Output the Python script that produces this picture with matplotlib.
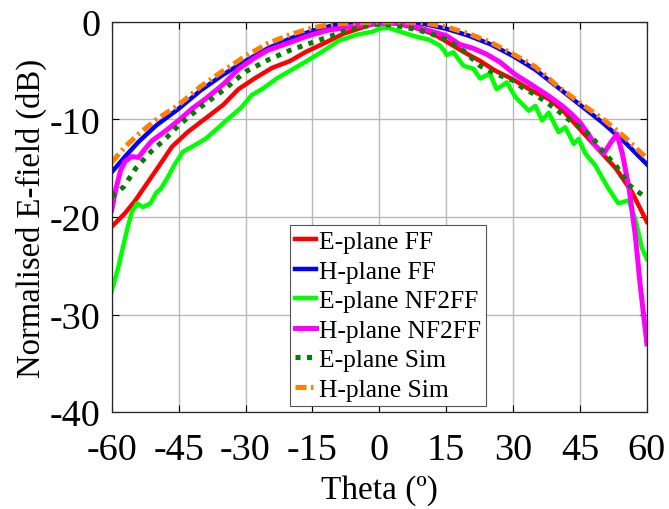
import matplotlib
matplotlib.use("Agg")
import matplotlib.pyplot as plt

# ---- data (theta in degrees, level in dB) ----
theta_e_ff = [-60, -57, -54.7, -52, -49, -46.5, -43, -39, -35, -31.6, -28, -24, -20, -16.6, -12, -8, -4,
              0, 4, 8, 12, 15, 19, 22.6, 26, 30, 34, 38, 41, 45, 49, 53, 56.6, 60]
e_ff = [-21.0, -19.6, -18.3, -16.5, -14.5, -12.8, -11.3, -9.9, -8.5, -6.9, -5.8, -4.7, -4.0, -3.1, -2.1, -1.2, -0.6,
        0.0, -0.2, -0.6, -1.2, -2.0, -3.1, -4.0, -5.0, -5.9, -7.0, -7.9, -9.0, -11.0, -13.0, -15.0, -17.4, -20.5]

theta_h_ff = [-60, -57, -54, -50, -45, -40, -35, -30, -25, -20, -15, -10, -5,
              0, 5, 10, 15, 20, 25, 30, 35, 40, 45, 50, 55, 60]
h_ff = [-15.4, -13.8, -12.3, -10.6, -8.9, -7.0, -5.4, -4.0, -2.7, -1.7, -0.9, -0.3, -0.1,
        0.0, 0.0, -0.2, -0.7, -1.4, -2.3, -3.5, -4.9, -6.7, -8.5, -10.3, -12.3, -14.6]

theta_e_nf = [-60, -58.6, -56.5, -55.5, -54.3, -53, -51.3, -50, -49, -47.5, -46, -44, -42, -39, -37, -35.5,
              -33.8, -31, -28.6, -26, -23, -20, -16.6, -13, -9, -5, -1.5, 0, 2, 4, 6, 9, 11, 13.5, 14.5,
              15.1, 16.6, 18.9, 21.1, 22.6, 24.8, 26.3, 28.6, 30.5, 33.5, 35, 36.5, 38, 40.2, 41.7, 43.6,
              44.7, 46.2, 48.4, 51.4, 53.6, 55.9, 57.4, 58.9, 60]
e_nf = [-27.6, -25.3, -21.2, -19.5, -18.6, -19.0, -18.6, -17.5, -17.1, -16.0, -14.7, -13.3, -12.8, -12.0,
        -11.2, -10.6, -9.9, -8.8, -7.5, -6.8, -5.8, -5.0, -4.1, -3.1, -1.9, -1.3, -1.0, -0.7, -0.6, -0.9,
        -1.2, -1.6, -1.8, -2.4, -2.9, -3.4, -3.1, -4.5, -4.8, -5.8, -5.3, -6.9, -6.2, -7.7, -9.1, -8.6,
        -10.1, -9.3, -11.3, -10.8, -12.5, -12.0, -13.5, -14.7, -17.1, -18.6, -18.3, -20.2, -23.2, -24.3]

theta_h_nf = [-60, -59, -58, -57, -55.5, -54, -52.5, -51, -48, -45, -42, -39, -35, -31.5, -28, -25, -20,
              -16.5, -12, -8, -4, 0, 3, 6, 9, 12, 15, 18, 21, 24, 27, 30.5, 34, 38, 41, 43, 45, 47, 48.5,
              50.3, 52, 53.3, 54.5, 56, 57.4, 58.5, 60]
h_nf = [-19.3, -17.0, -15.2, -14.3, -13.8, -13.9, -13.0, -12.2, -11.2, -10.1, -8.9, -7.9, -6.4, -4.8, -3.7,
        -2.9, -2.1, -1.5, -0.9, -0.6, -0.3, -0.2, -0.1, -0.3, -0.6, -1.0, -1.4, -2.3, -2.7, -3.3, -4.1,
        -5.4, -6.4, -7.6, -8.6, -9.4, -10.3, -11.6, -12.7, -13.5, -12.3, -11.5, -13.5, -17.1, -21.9,
        -27.0, -33.0]

theta_e_sim = [-60, -57.3, -54.6, -51.2, -48, -45, -40, -35, -30, -25, -20, -15, -10, -7.5, -4,
               0, 4, 7.5, 11, 15, 19, 22.6, 26, 30, 32, 35.5, 39.5, 43, 45, 47.7, 50, 53, 56.2, 60]
e_sim = [-17.9, -16.9, -15.0, -13.3, -12.0, -10.6, -8.7, -7.0, -5.1, -3.9, -2.9, -2.1, -1.3, -0.9, -0.5,
         -0.2, -0.4, -0.7, -1.1, -1.8, -3.0, -4.5, -5.3, -6.0, -6.7, -7.6, -8.9, -10.2, -10.8, -11.8,
         -13.2, -14.7, -16.8, -18.1]

theta_h_sim = [-60, -57, -54, -50, -45, -40, -35, -30, -25, -20, -15, -10, -5,
               0, 5, 10, 15, 20, 25, 30, 35, 40, 45, 50, 55, 60]
h_sim = [-14.4, -12.8, -11.5, -10.0, -8.5, -6.6, -5.0, -3.5, -2.2, -1.3, -0.6, -0.2, -0.1,
         0.0, 0.0, -0.1, -0.5, -1.2, -2.1, -3.3, -4.6, -6.6, -8.3, -9.9, -11.8, -14.0]

x_ticks = [-60, -45, -30, -15, 0, 15, 30, 45, 60]
y_ticks = [-40, -30, -20, -10, 0]

plt.rcParams.update(
    {
        "font.family": ["Liberation Serif", "DejaVu Serif"],
        "axes.unicode_minus": False,
        "xtick.direction": "in",
        "ytick.direction": "in",
    }
)

fig = plt.figure(figsize=(6.69, 5.10), dpi=100)
ax = fig.add_axes([0.167, 0.190, 0.800, 0.765])

ax.plot(theta_e_ff, e_ff, color="#ff0000", lw=3.2, label="E-plane FF")
ax.plot(theta_h_ff, h_ff, color="#0000ff", lw=3.2, label="H-plane FF")
ax.plot(theta_e_nf, e_nf, color="#00ff00", lw=3.2, label="E-plane NF2FF")
ax.plot(theta_h_nf, h_nf, color="#ff00ff", lw=3.6, label="H-plane NF2FF")
ax.plot(theta_e_sim, e_sim, color="#007f00", lw=3.6, ls=(0, (1.0, 1.3)), label="E-plane Sim")
ax.plot(theta_h_sim, h_sim, color="#ff8000", lw=3.6, ls=(0, (2.2, 0.9, 0.5, 0.9)), label="H-plane Sim")

ax.set_xlim(-60, 60)
ax.set_ylim(-40, 0)
ax.set_xticks(x_ticks)
ax.set_yticks(y_ticks)
ax.tick_params(axis="x", labelsize=27.5, length=5, width=0.8, pad=15, top=True)
ax.tick_params(axis="y", labelsize=27.5, length=5, width=0.8, pad=8, right=True)
ax.grid(True, color="0.72", lw=1.0)
ax.set_axisbelow(True)
for s in ax.spines.values():
    s.set_linewidth(0.9)
    s.set_color("#262626")

ax.set_xlabel("Theta (º)", fontsize=24, labelpad=5)
ax.set_ylabel("Normalised E-field (dB)", fontsize=23.5, labelpad=2)

leg = ax.legend(
    loc="upper left",
    bbox_to_anchor=(0.333, 0.479),
    borderaxespad=0,
    fontsize=18.4,
    handlelength=0.8,
    handletextpad=0.15,
    labelspacing=0.26,
    borderpad=0.2,
    frameon=True,
    fancybox=False,
    framealpha=1,
    edgecolor="#555555",
)
leg.get_frame().set_linewidth(0.8)

fig.savefig("out.png", dpi=100)
